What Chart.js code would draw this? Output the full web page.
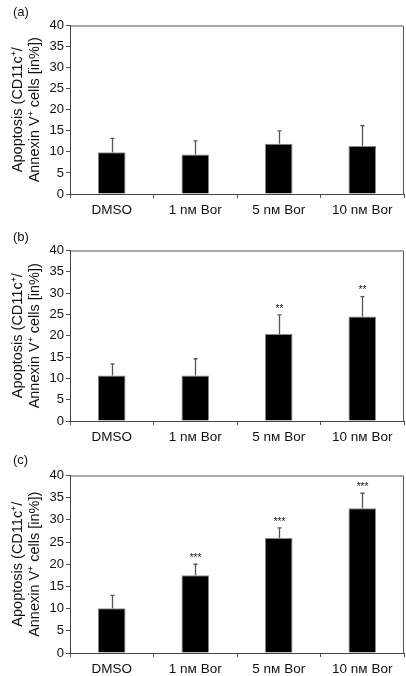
<!DOCTYPE html>
<html>
<head>
<meta charset="utf-8">
<script src="https://cdn.jsdelivr.net/npm/chart.js@4.4.1/dist/chart.umd.min.js"></script>
<style>
  html, body { margin: 0; padding: 0; background: #fff; }
  body { width: 406px; height: 676px; position: relative; overflow: hidden; font-family: "Liberation Sans", Arial, sans-serif; }
  .panel { position: absolute; left: 0; width: 406px; }
  .tag { position: absolute; left: 13px; font-size: 13px; color: #111; }
</style>
</head>
<body>
<div class="panel" style="top:0;height:225px"><canvas id="chartA" width="406" height="225"></canvas></div>
<div class="panel" style="top:225px;height:225px"><canvas id="chartB" width="406" height="225"></canvas></div>
<div class="panel" style="top:450px;height:226px"><canvas id="chartC" width="406" height="226"></canvas></div>
<div class="tag" style="top:4px">(a)</div>
<div class="tag" style="top:229px">(b)</div>
<div class="tag" style="top:452px">(c)</div>
<script>
// data
const categories = ['DMSO', '1 nᴍ Bor', '5 nᴍ Bor', '10 nᴍ Bor'];
const yTicks = [0, 5, 10, 15, 20, 25, 30, 35, 40];
const axisTitle = ['Apoptosis (CD11c⁺/', 'Annexin V⁺ cells [in%])'];

const valuesA = [9.9, 9.4, 11.9, 11.4];
const errorsA = [3.3, 3.2, 3.1, 4.8];
const starsA = ['', '', '', ''];

const valuesB = [10.7, 10.7, 20.4, 24.5];
const errorsB = [2.7, 3.9, 4.5, 4.7];
const starsB = ['', '', '**', '**'];

const valuesC = [10.1, 17.5, 25.9, 32.6];
const errorsC = [2.9, 2.5, 2.3, 3.4];
const starsC = ['', '***', '***', '***'];

const FONT = '"Liberation Sans", Arial, sans-serif';

// error bars (upper only) + significance stars
const errorBars = {
  id: 'errorBars',
  afterDatasetsDraw(chart, args, opts) {
    const ctx = chart.ctx;
    const y = chart.scales.y;
    const meta = chart.getDatasetMeta(0);
    const vals = chart.data.datasets[0].data;
    ctx.save();
    meta.data.forEach((bar, i) => {
      const top = y.getPixelForValue(vals[i] + opts.errors[i]);
      const x = Math.round(bar.x) + 0.5;
      ctx.strokeStyle = '#555';
      ctx.lineWidth = 1.3;
      ctx.beginPath();
      ctx.moveTo(x, bar.y);
      ctx.lineTo(x, top);
      ctx.moveTo(x - 2, top);
      ctx.lineTo(x + 2, top);
      ctx.stroke();
      if (opts.stars[i]) {
        ctx.fillStyle = '#111';
        ctx.font = '10px ' + FONT;
        ctx.textAlign = 'center';
        ctx.textBaseline = 'bottom';
        ctx.fillText(opts.stars[i], x, top - 1);
      }
    });
    ctx.restore();
  }
};

// top and right edges of the box
const frame = {
  id: 'frame',
  afterDraw(chart) {
    const { ctx, chartArea: a } = chart;
    ctx.save();
    ctx.strokeStyle = '#555';
    ctx.lineWidth = 1;
    ctx.beginPath();
    ctx.moveTo(a.left, a.top + 0.5);
    ctx.lineTo(a.right - 0.5, a.top + 0.5);
    ctx.lineTo(a.right - 0.5, a.bottom);
    ctx.stroke();
    ctx.restore();
  }
};

function makeChart(id, values, errors, stars, top, axisHeight) {
  return new Chart(document.getElementById(id), {
    type: 'bar',
    data: {
      labels: categories,
      datasets: [{
        data: values,
        backgroundColor: '#000',
        borderColor: '#888',
        borderWidth: 1,
        categoryPercentage: 1,
        barPercentage: 0.33
      }]
    },
    options: {
      responsive: false,
      animation: false,
      layout: { padding: { top: top, right: 2, left: 0, bottom: 0 } },
      plugins: {
        legend: { display: false },
        tooltip: { enabled: false },
        errorBars: { errors: errors, stars: stars }
      },
      scales: {
        x: {
          offset: true,
          grid: { offset: true, drawOnChartArea: false, tickLength: 4, color: '#555' },
          border: { color: '#444' },
          ticks: { color: '#111', padding: 4, font: { family: FONT, size: 13.5 }, maxRotation: 0 },
          afterFit(scale) { scale.height = axisHeight; }
        },
        y: {
          min: 0,
          max: 40,
          afterBuildTicks(scale) { scale.ticks = yTicks.map(v => ({ value: v })); },
          grid: { drawOnChartArea: false, tickLength: 4, color: '#555' },
          border: { color: '#444' },
          ticks: { color: '#111', padding: 2, font: { family: FONT, size: 13 } },
          title: {
            display: true,
            text: axisTitle,
            color: '#111',
            font: { family: FONT, size: 14.5, lineHeight: 1.15 },
            padding: { top: 10, bottom: 0 }
          },
          afterFit(scale) { scale.width = 70; }
        }
      }
    },
    plugins: [errorBars, frame]
  });
}

makeChart('chartA', valuesA, errorsA, starsA, 25.5, 31);
makeChart('chartB', valuesB, errorsB, starsB, 25.5, 29);
makeChart('chartC', valuesC, errorsC, starsC, 25.5, 23);
</script>
</body>
</html>
